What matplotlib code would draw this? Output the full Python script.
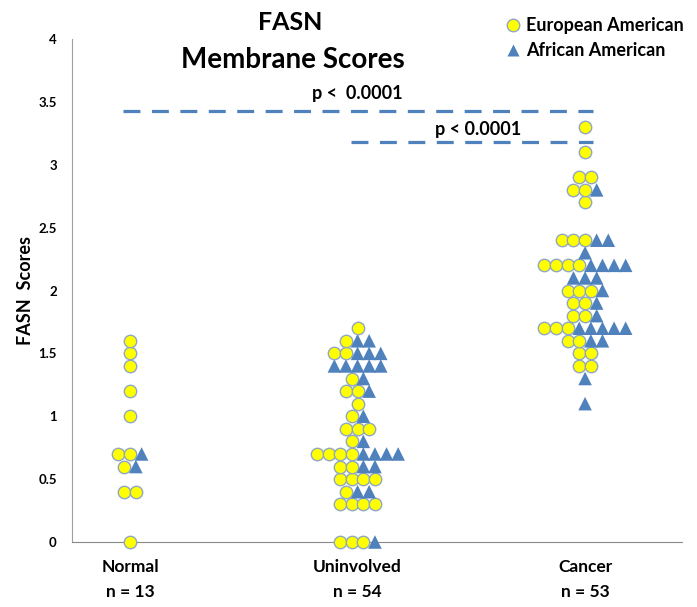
import matplotlib
matplotlib.use("Agg")
import matplotlib.pyplot as plt
from matplotlib.lines import Line2D
import numpy as np

plt.rcParams['font.family'] = ['Lato', 'DejaVu Sans']
plt.rcParams['font.weight'] = 'bold'

# categories and scores
categories = ['Normal\nn = 13', 'Uninvolved\nn = 54', 'Cancer\nn = 53']
normal_ea = [1.6, 1.5, 1.4, 1.2, 1.0, 0.7, 0.7, 0.6, 0.4, 0.4, 0.0]
normal_aa = [0.7, 0.6]
uninv_ea = [1.7, 1.6, 1.5, 1.5, 1.3, 1.2, 1.2, 1.1, 1.0, 0.9, 0.9, 0.9, 0.8,
            0.7, 0.7, 0.7, 0.7, 0.6, 0.6, 0.5, 0.5, 0.5, 0.5, 0.4,
            0.3, 0.3, 0.3, 0.3, 0.0, 0.0, 0.0]
uninv_aa = [1.6, 1.6, 1.5, 1.5, 1.5, 1.4, 1.4, 1.4, 1.4, 1.4, 1.3, 1.2, 1.0,
            0.8, 0.7, 0.7, 0.7, 0.7, 0.6, 0.6, 0.4, 0.4, 0.0]
cancer_ea = [3.3, 3.1, 2.9, 2.9, 2.8, 2.8, 2.7, 2.4, 2.4, 2.4, 2.2, 2.2, 2.2,
             2.2, 2.0, 2.0, 2.0, 1.9, 1.9, 1.8, 1.8, 1.7, 1.7, 1.7, 1.6, 1.6,
             1.5, 1.5, 1.4, 1.4]
cancer_aa = [2.8, 2.4, 2.4, 2.3, 2.2, 2.2, 2.2, 2.2, 2.1, 2.1, 2.1, 2.0, 1.9,
             1.8, 1.7, 1.7, 1.7, 1.7, 1.7, 1.6, 1.6, 1.3, 1.1]
ea_groups = [normal_ea, uninv_ea, cancer_ea]
aa_groups = [normal_aa, uninv_aa, cancer_aa]

# significance brackets: (from group, to group, height, label)
sig_from = [1, 2]
sig_to = [3, 3]
sig_y = [3.43, 3.18]
sig_text = ['p <  0.0001', 'p < 0.0001']

yellow = '#FFFF00'
edge = '#8FA8C0'
blue = '#4F81BD'
slot = 0.051  # horizontal step between neighbouring markers

fig = plt.figure(figsize=(6.97, 6.07), dpi=100)
ax = fig.add_axes([72/697, 1-542/607, 610/697, 503/607])

for i, (ea, aa) in enumerate(zip(ea_groups, aa_groups)):
    xc = i + 1
    levels = sorted(set(ea) | set(aa))
    for v in levels:
        ne = sum(1 for e in ea if abs(e - v) < 1e-9)
        na = sum(1 for a in aa if abs(a - v) < 1e-9)
        n = ne + na
        offs = (np.arange(n) - (n - 1) / 2) * slot
        if ne:
            ax.scatter(xc + offs[:ne], [v]*ne, s=80, marker='o', facecolor=yellow,
                       edgecolor=edge, linewidth=1.0, zorder=3, clip_on=False)
        if na:
            ax.scatter(xc + offs[ne:], [v]*na, s=95, marker='^', facecolor=blue,
                       edgecolor='none', zorder=3, clip_on=False)

for a, b, y, t in zip(sig_from, sig_to, sig_y, sig_text):
    ax.plot([a - 0.03, b + 0.035], [y, y], color=blue, lw=2.3,
            dashes=(5.3, 3.6), zorder=2)

ax.text(2.0, 3.57, sig_text[0], ha='center', va='center', fontsize=13, fontweight='bold')
ax.text(2.53, 3.28, sig_text[1], ha='center', va='center', fontsize=13, fontweight='bold')

ax.set_xlim(0.745, 3.426)
ax.set_ylim(0, 4)
ax.set_yticks([0, 0.5, 1, 1.5, 2, 2.5, 3, 3.5, 4])
ax.set_yticklabels(['0', '0.5', '1', '1.5', '2', '2.5', '3', '3.5', '4'])
ax.set_xticks([1, 2, 3])
ax.set_xticklabels(categories, fontsize=12.5, fontweight='bold', linespacing=1.75)
ax.tick_params(axis='y', length=0, pad=11, labelsize=9.5)
ax.tick_params(axis='x', length=0, pad=12)
for s in ['top', 'right']:
    ax.spines[s].set_visible(False)
ax.spines['left'].set_color('#A0A0A0')
ax.spines['bottom'].set_color('#888888')
ax.set_ylabel('FASN  Scores', fontsize=13, fontweight='bold', labelpad=3)

fig.text(290/697, 1-22/607, 'FASN', ha='center', va='center', fontsize=18, fontweight='bold')
fig.text(293/697, 1-60/607, 'Membrane Scores', ha='center', va='center', fontsize=20, fontweight='bold')

handles = [Line2D([], [], marker='o', ls='', markersize=9, markerfacecolor=yellow,
                  markeredgecolor=edge),
           Line2D([], [], marker='^', ls='', markersize=9, markerfacecolor=blue,
                  markeredgecolor='none')]
fig.legend(handles, ['European American', 'African American'], loc='upper left',
           bbox_to_anchor=(490/697, 1-1/607), frameon=False, handlelength=0.8,
           handletextpad=0.3, labelspacing=0.45, prop={'size': 13, 'weight': 'bold'})

fig.savefig('out.png', dpi=100)
